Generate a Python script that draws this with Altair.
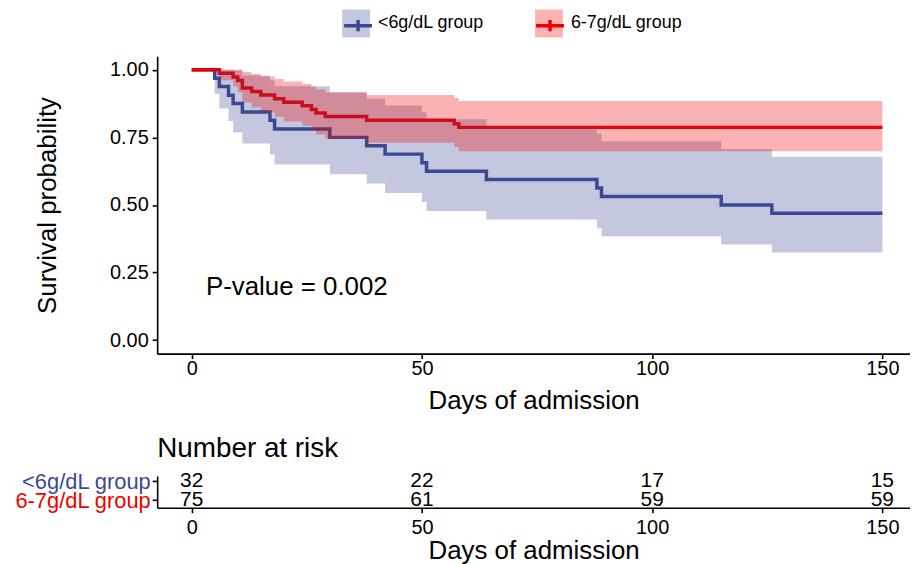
import altair as alt
import pandas as pd

FONT = "Liberation Sans"
GROUPS = ["<6g/dL group", "6-7g/dL group"]
COLORS = ["#3B4992", "#EE0000"]

# <6g/dL group: Kaplan-Meier steps
BLUE_DAY = [0, 5, 6, 8, 9, 11, 17, 18, 30, 38, 42, 50, 51, 64, 88, 89, 115, 126, 150]
BLUE_SURV = [1.000, 0.969, 0.938, 0.906, 0.875, 0.844, 0.813, 0.781, 0.750, 0.719,
             0.688, 0.656, 0.625, 0.594, 0.563, 0.531, 0.500, 0.469, 0.469]
BLUE_UPPER = [1.000, 1.000, 1.000, 1.000, 0.997, 0.979, 0.960, 0.939, 0.916, 0.893,
              0.868, 0.843, 0.817, 0.791, 0.764, 0.736, 0.707, 0.678, 0.678]
BLUE_LOWER = [1.000, 0.910, 0.857, 0.811, 0.768, 0.727, 0.688, 0.650, 0.614, 0.579,
              0.544, 0.511, 0.478, 0.446, 0.414, 0.384, 0.354, 0.324, 0.324]

# 6-7g/dL group
RED_DAY = [0, 6, 9, 10, 11, 13, 15, 18, 20, 24, 26, 27, 29, 38, 57, 58, 150]
RED_SURV = [1.000, 0.987, 0.973, 0.960, 0.933, 0.920, 0.907, 0.893, 0.880, 0.867,
            0.853, 0.840, 0.827, 0.813, 0.800, 0.787, 0.787]
RED_UPPER = [1.000, 1.000, 1.000, 1.000, 0.992, 0.984, 0.975, 0.966, 0.957, 0.947,
             0.937, 0.927, 0.917, 0.907, 0.896, 0.885, 0.885]
RED_LOWER = [1.000, 0.961, 0.938, 0.917, 0.879, 0.861, 0.843, 0.826, 0.809, 0.793,
             0.777, 0.761, 0.745, 0.730, 0.714, 0.699, 0.699]

# Number at risk table
RISK_DAYS = [0, 50, 100, 150]
RISK_BLUE = [32, 22, 17, 15]
RISK_RED = [75, 61, 59, 59]

X_TICKS = [0, 50, 100, 150]
Y_TICKS = [0, 0.25, 0.5, 0.75, 1.0]
P_TEXT = "P-value = 0.002"

curves = pd.concat([
    pd.DataFrame({"group": GROUPS[0], "day": BLUE_DAY, "surv": BLUE_SURV,
                  "upper": BLUE_UPPER, "lower": BLUE_LOWER}),
    pd.DataFrame({"group": GROUPS[1], "day": RED_DAY, "surv": RED_SURV,
                  "upper": RED_UPPER, "lower": RED_LOWER}),
], ignore_index=True)
# a tagged copy of the group name, so that the band legend and the line legend
# are kept as two legends (drawn on top of each other like ggplot's key)
TAG = "band "
BAND_GROUPS = [TAG + g for g in GROUPS]
curves["band_group"] = TAG + curves["group"]

n_groups = len(GROUPS)
risk = pd.DataFrame({
    "group": [GROUPS[0]] * len(RISK_DAYS) + [GROUPS[1]] * len(RISK_DAYS),
    "row": [n_groups] * len(RISK_DAYS) + [n_groups - 1] * len(RISK_DAYS),
    "day": RISK_DAYS + RISK_DAYS,
    "n": RISK_BLUE + RISK_RED,
})
ptext_df = pd.DataFrame({"label": [P_TEXT]})

W = 757
xscale = alt.Scale(domain=[-7.5, 156], nice=False, zero=False)
yscale = alt.Scale(domain=[-0.05, 1.05], nice=False, zero=False)
cscale = alt.Scale(domain=GROUPS, range=COLORS)
bscale = alt.Scale(domain=BAND_GROUPS, range=COLORS)

x_axis = alt.Axis(values=X_TICKS, format="d", title="Days of admission",
                  labelPadding=0, titlePadding=9)
x_axis_table = alt.Axis(values=X_TICKS, format="d", title="Days of admission",
                        labelPadding=5, titlePadding=0)
y_axis = alt.Axis(values=Y_TICKS, format=".2f", title="Survival probability",
                  labelPadding=4, titlePadding=49)

common_legend = dict(orient="none", legendX=186, legendY=-47, direction="horizontal",
                     labelFont=FONT, labelFontSize=18, labelColor="black",
                     labelOffset=8, padding=0, labelLimit=400, symbolSize=784)
fill_legend = alt.Legend(title=None, symbolType="square", symbolOpacity=0.3,
                         symbolStrokeWidth=0, columnPadding=51,
                         labelExpr=f"replace(datum.label, '{TAG}', '')", **common_legend)
stroke_legend = alt.Legend(title=None, symbolType="M-1,0H1M0,-0.4V0.4",
                           symbolStrokeWidth=3.5, labelOpacity=0, columnPadding=41,
                           **common_legend)

base = alt.Chart(curves)
lines = base.mark_line(interpolate="step-after", strokeWidth=3.5).encode(
    x=alt.X("day:Q", scale=xscale, axis=x_axis),
    y=alt.Y("surv:Q", scale=yscale, axis=y_axis),
    stroke=alt.Stroke("group:N", scale=cscale, legend=stroke_legend),
)
bands = base.mark_area(interpolate="step-after", fillOpacity=0.3).encode(
    x=alt.X("day:Q", scale=xscale, axis=x_axis),
    y=alt.Y("lower:Q", scale=yscale, axis=y_axis, stack=None),
    y2="upper:Q",
    fill=alt.Fill("band_group:N", scale=bscale, legend=fill_legend),
)
ptext = alt.Chart(ptext_df).mark_text(font=FONT, fontSize=26, color="black",
                                      align="left", baseline="middle").encode(
    x=alt.X(datum=3.1, scale=xscale, axis=x_axis),
    y=alt.Y(datum=0.195, scale=yscale, axis=y_axis),
    text="label:N",
)
main = alt.layer(lines, bands, ptext).properties(width=W, height=299)

label_expr = f"datum.value == {n_groups} ? '{GROUPS[0]}' : '{GROUPS[1]}'"
table = alt.Chart(risk).mark_text(font=FONT, fontSize=21, color="black",
                                  align="center", baseline="middle").encode(
    x=alt.X("day:Q", scale=xscale, axis=x_axis_table),
    y=alt.Y("row:Q", scale=alt.Scale(domain=[0.6, 2.28], nice=False, zero=False),
            axis=alt.Axis(values=[1, 2], labelExpr=label_expr, title=None,
                          labelFontSize=22, labelPadding=2,
                          labelColor={"condition": {"test": f"datum.value == {n_groups}",
                                                    "value": COLORS[0]},
                                      "value": COLORS[1]})),
    text="n:Q",
).properties(width=W, height=32,
             title=alt.TitleParams(text="Number at risk", anchor="start", frame="group",
                                   font=FONT, fontSize=28, fontWeight="normal",
                                   color="black", offset=7))

chart = alt.vconcat(main, table, spacing=22).properties(
    padding={"left": 6, "top": 0, "right": 0, "bottom": 0}
).configure_view(strokeWidth=0).configure_axis(
    domainColor="black", domainWidth=1.6, tickColor="black", tickWidth=1.6, tickSize=5,
    labelFont=FONT, labelFontSize=20, labelColor="black",
    titleFont=FONT, titleFontSize=26, titleFontWeight="normal", titleColor="black",
    grid=False,
)

chart.save("out.html", embed_options={"renderer": "svg", "actions": False})
